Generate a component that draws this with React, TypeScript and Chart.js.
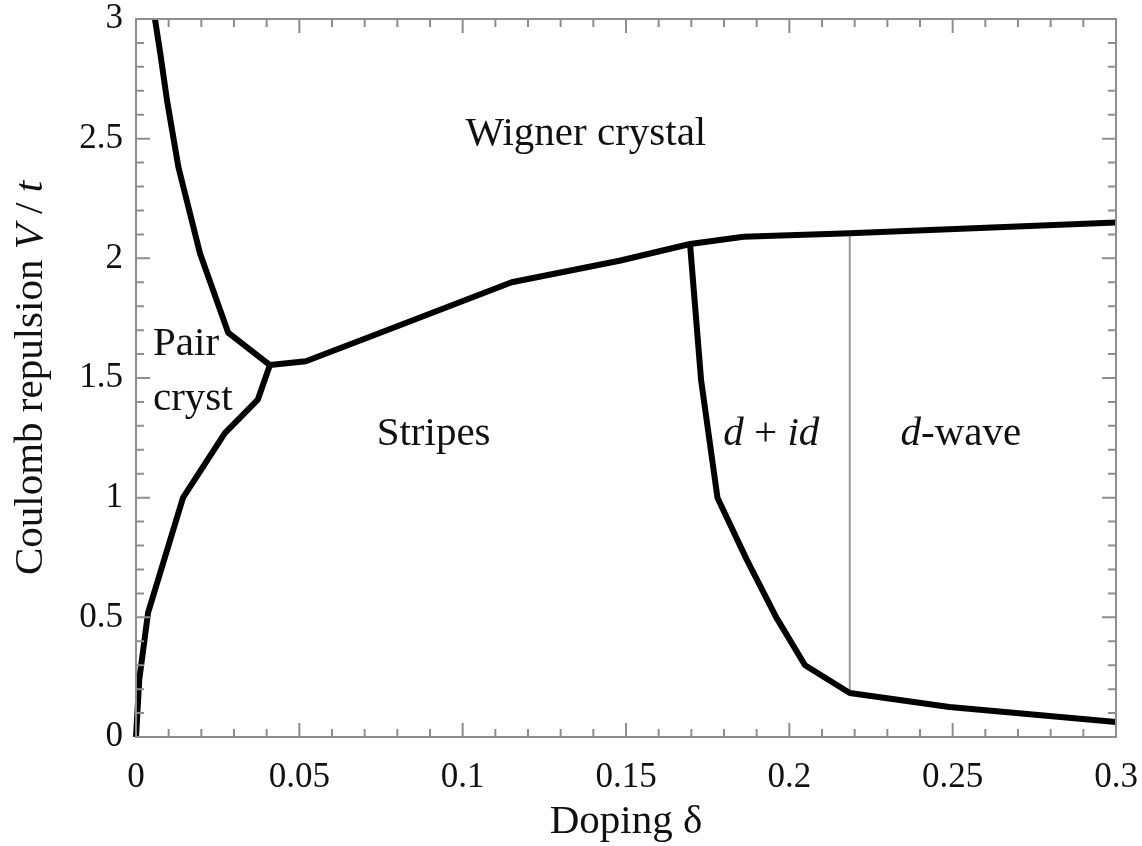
import { useEffect, useRef } from 'react';
import { Chart, registerables } from 'chart.js';

Chart.register(...registerables);

// ---- Data (doping δ, Coulomb repulsion V/t) ----
const wignerPairX = [0.0058, 0.0075, 0.0095, 0.013, 0.0196, 0.0282, 0.041];
const wignerPairV = [3.0, 2.85, 2.66, 2.38, 2.02, 1.69, 1.554];

const pairStripesX = [0.0, 0.001, 0.0037, 0.0144, 0.0272, 0.0373, 0.041];
const pairStripesV = [0.0, 0.24, 0.52, 1.0, 1.27, 1.41, 1.554];

const wignerLowerX = [0.041, 0.052, 0.075, 0.115, 0.148, 0.1696, 0.186, 0.2185, 0.3];
const wignerLowerV = [1.554, 1.57, 1.69, 1.9, 1.99, 2.06, 2.09, 2.105, 2.15];

const stripesSCX = [0.1696, 0.173, 0.178, 0.187, 0.196, 0.2048, 0.2185, 0.249, 0.3];
const stripesSCV = [2.06, 1.49, 1.0, 0.74, 0.5, 0.3, 0.184, 0.125, 0.063];

const dWaveSplitX = [0.2185, 0.2185];
const dWaveSplitV = [0.184, 2.105];

const xTicks = [0, 0.05, 0.1, 0.15, 0.2, 0.25, 0.3];
const xTickLabels = ['0', '0.05', '0.1', '0.15', '0.2', '0.25', '0.3'];
const yTicks = [0, 0.5, 1, 1.5, 2, 2.5, 3];
const yTickLabels = ['0', '0.5', '1', '1.5', '2', '2.5', '3'];

const xTitle = [{ t: 'Doping δ', i: false }];
const yTitle = [
  { t: 'Coulomb repulsion ', i: false },
  { t: 'V', i: true },
  { t: ' / ', i: false },
  { t: 't', i: true },
];

const regionLabels = [
  { runs: [{ t: 'Wigner crystal', i: false }], x: 0.1377, v: 2.474, align: 'center' },
  { runs: [{ t: 'Pair', i: false }], x: 0.0052, v: 1.596, align: 'left' },
  { runs: [{ t: 'cryst', i: false }], x: 0.0052, v: 1.366, align: 'left' },
  { runs: [{ t: 'Stripes', i: false }], x: 0.0911, v: 1.22, align: 'center' },
  { runs: [{ t: 'd', i: true }, { t: ' + ', i: false }, { t: 'id', i: true }], x: 0.1945, v: 1.22, align: 'center' },
  { runs: [{ t: 'd', i: true }, { t: '-wave', i: false }], x: 0.2525, v: 1.22, align: 'center' },
];

const FONT = '"Liberation Serif", "Times New Roman", serif';
const TEXT_COLOR = '#111';
const AXIS_COLOR = '#8e8e8e';
const LABEL_SIZE = 41;

const pts = (xs: number[], vs: number[]) => xs.map((x, k) => ({ x, y: vs[k] }));

type Run = { t: string; i: boolean };

function drawRuns(ctx: CanvasRenderingContext2D, runs: Run[], x: number, y: number, size: number, align: string) {
  const widths = runs.map((r) => {
    ctx.font = `${r.i ? 'italic ' : ''}${size}px ${FONT}`;
    return ctx.measureText(r.t).width;
  });
  const total = widths.reduce((a, b) => a + b, 0);
  let cx = align === 'center' ? x - total / 2 : align === 'right' ? x - total : x;
  ctx.textAlign = 'left';
  ctx.textBaseline = 'alphabetic';
  runs.forEach((r, k) => {
    ctx.font = `${r.i ? 'italic ' : ''}${size}px ${FONT}`;
    ctx.fillText(r.t, cx, y);
    cx += widths[k];
  });
}

const framePlugin = {
  id: 'frameAndText',
  afterDraw(chart: any) {
    const { ctx, chartArea } = chart;
    const { left, right, top, bottom } = chartArea;
    const xs = chart.scales.x;
    const ys = chart.scales.y;
    ctx.save();
    ctx.strokeStyle = AXIS_COLOR;
    ctx.lineWidth = 2;
    ctx.beginPath();
    for (let k = 0; k <= 30; k++) {
      const px = xs.getPixelForValue(k * 0.01);
      const len = k % 5 === 0 ? 14 : 8;
      ctx.moveTo(px, bottom);
      ctx.lineTo(px, bottom - len);
      ctx.moveTo(px, top);
      ctx.lineTo(px, top + len);
    }
    for (let k = 0; k <= 30; k++) {
      const py = ys.getPixelForValue(k * 0.1);
      const len = k % 5 === 0 ? 14 : 8;
      ctx.moveTo(left, py);
      ctx.lineTo(left + len, py);
      ctx.moveTo(right, py);
      ctx.lineTo(right - len, py);
    }
    ctx.stroke();
    ctx.strokeRect(left, top, right - left, bottom - top);

    ctx.fillStyle = TEXT_COLOR;
    regionLabels.forEach((lab) => {
      drawRuns(ctx, lab.runs, xs.getPixelForValue(lab.x), ys.getPixelForValue(lab.v), LABEL_SIZE, lab.align);
    });

    // axis titles
    drawRuns(ctx, xTitle, (left + right) / 2, 833, LABEL_SIZE, 'center');
    ctx.translate(42, (top + bottom) / 2);
    ctx.rotate(-Math.PI / 2);
    drawRuns(ctx, yTitle, 0, 0, LABEL_SIZE, 'center');
    ctx.restore();
  },
};

export default function App() {
  const ref = useRef<HTMLCanvasElement | null>(null);

  useEffect(() => {
    document.body.style.margin = '0';
    const canvas = ref.current;
    if (!canvas) return;
    const lineStyle = {
      showLine: true,
      pointRadius: 0,
      borderColor: '#000',
      borderWidth: 6,
      borderJoinStyle: 'round' as const,
      tension: 0,
      fill: false,
      clip: false as any,
    };
    const chart = new Chart(canvas, {
      type: 'scatter',
      data: {
        datasets: [
          { ...lineStyle, label: 'Wigner / Pair', data: pts(wignerPairX, wignerPairV), order: 1 },
          { ...lineStyle, label: 'Pair / Stripes', data: pts(pairStripesX, pairStripesV), order: 1 },
          { ...lineStyle, label: 'Wigner / lower', data: pts(wignerLowerX, wignerLowerV), order: 1 },
          { ...lineStyle, label: 'Stripes / SC', data: pts(stripesSCX, stripesSCV), order: 1 },
          {
            ...lineStyle,
            label: 'd+id / d-wave',
            data: pts(dWaveSplitX, dWaveSplitV),
            borderColor: '#9a9a9a',
            borderWidth: 2,
            order: 5,
          },
        ],
      },
      options: {
        responsive: false,
        maintainAspectRatio: false,
        animation: false,
        layout: { padding: { left: 0, top: 19, right: 26, bottom: 0 } },
        plugins: { legend: { display: false }, tooltip: { enabled: false } },
        scales: {
          x: {
            type: 'linear',
            min: 0,
            max: 0.3,
            grid: { display: false, drawTicks: false },
            border: { display: false },
            afterBuildTicks: (s: any) => {
              s.ticks = xTicks.map((v) => ({ value: v }));
            },
            afterFit: (s: any) => {
              s.height = 109;
              s.paddingLeft = 0;
              s.paddingRight = 0;
              s.paddingTop = 0;
              s.paddingBottom = 0;
            },
            ticks: {
              autoSkip: false,
              maxRotation: 0,
              padding: 20,
              color: TEXT_COLOR,
              font: { family: FONT, size: 35 },
              callback: (_v: any, i: number) => xTickLabels[i],
            },
          },
          y: {
            type: 'linear',
            min: 0,
            max: 3,
            grid: { display: false, drawTicks: false },
            border: { display: false },
            afterBuildTicks: (s: any) => {
              s.ticks = yTicks.map((v) => ({ value: v }));
            },
            afterFit: (s: any) => {
              s.width = 136;
              s.paddingLeft = 0;
              s.paddingRight = 0;
              s.paddingTop = 0;
              s.paddingBottom = 0;
            },
            ticks: {
              autoSkip: false,
              padding: 13,
              color: TEXT_COLOR,
              font: { family: FONT, size: 35 },
              callback: (_v: any, i: number) => yTickLabels[i],
            },
          },
        },
      },
      plugins: [framePlugin],
    });
    return () => chart.destroy();
  }, []);

  return (
    <div style={{ width: 1142, height: 846, background: '#fff' }}>
      <canvas ref={ref} width={1142} height={846} style={{ display: 'block' }} />
    </div>
  );
}
